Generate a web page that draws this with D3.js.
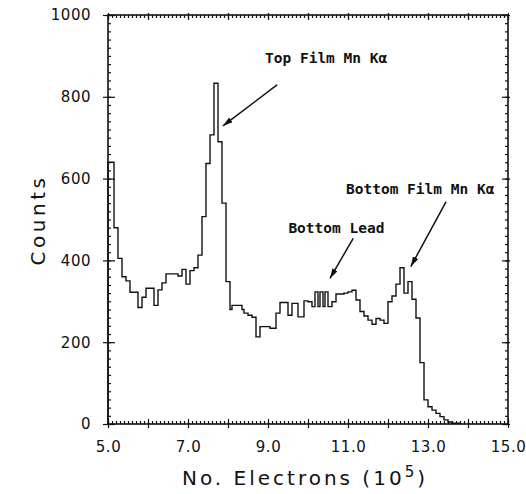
<!DOCTYPE html>
<html>
<head>
<meta charset="utf-8">
<script src="https://cdn.jsdelivr.net/npm/d3@7"></script>
<style>
  body { margin: 0; background: #fff; }
  .tick-label { font-family: "DejaVu Sans", sans-serif; font-size: 15px; fill: #111; letter-spacing: 0.5px; }
  .axis-title { font-family: "DejaVu Sans", sans-serif; font-size: 20px; fill: #111; letter-spacing: 3px; }
  .note { font-family: "DejaVu Sans Mono", monospace; font-size: 14.5px; font-weight: bold; fill: #111; }
</style>
</head>
<body>
<div id="chart"></div>
<script>
// histogram steps: left edge of each step, last value is the right edge of the final step
const binEdges = [5.0, 5.15, 5.25, 5.35, 5.45, 5.55, 5.75, 5.85, 5.95, 6.15,
    6.25, 6.35, 6.45, 6.75, 6.85, 6.95, 7.05, 7.15, 7.25, 7.35,
    7.45, 7.55, 7.65, 7.75, 7.85, 7.95, 8.05, 8.1, 8.35, 8.4,
    8.5, 8.6, 8.7, 8.8, 9.05, 9.2, 9.3, 9.5, 9.6, 9.75,
    9.9, 10.0, 10.1, 10.175, 10.25, 10.3, 10.375, 10.425, 10.5, 10.6,
    10.7, 10.9, 11.0, 11.1, 11.2, 11.3, 11.4, 11.5, 11.6, 11.7,
    11.8, 11.9, 12.0, 12.1, 12.2, 12.3, 12.4, 12.5, 12.6, 12.7,
    12.8, 12.9, 13.0, 13.1, 13.2, 13.3, 13.4, 13.5, 13.6, 13.8];
const counts = [640, 480, 405, 360, 350, 322, 285, 310, 332, 290,
    328, 345, 367, 362, 378, 342, 375, 382, 413, 507,
    637, 707, 833, 690, 540, 348, 280, 290, 280, 271,
    266, 261, 213, 238, 234, 271, 297, 266, 295, 262,
    301, 299, 287, 323, 287, 323, 287, 323, 287, 299,
    318, 320, 323, 327, 303, 275, 264, 254, 244, 258,
    254, 246, 299, 313, 342, 382, 320, 348, 305, 259,
    150, 59, 42, 34, 26, 18, 10, 5, 2];

const xMajorTicks = d3.range(5, 15.01, 1);
const xMinorTicks = d3.range(50, 151).map(d => d / 10);
const yMajorTicks = d3.range(0, 1001, 200);
const yMinorTicks = d3.range(0, 1001, 20);

// annotations, in data units
const noteText = ["Top Film Mn K\u03b1", "Bottom Lead", "Bottom Film Mn K\u03b1"];
const noteAt = [[8.925, 883], [9.51, 467], [10.95, 562]];
const arrowFrom = [[9.225, 829], [11.13, 454], [13.45, 543]];
const arrowTo = [[7.875, 729], [10.55, 356], [12.57, 385]];

const width = 526, height = 494;
const margin = {top: 15, right: 18, bottom: 70, left: 108};

const svg = d3.select("#chart")
    .append("svg")
    .attr("width", width)
    .attr("height", height);

const x = d3.scaleLinear()
    .domain([5, 15])
    .range([margin.left, width - margin.right]);

const y = d3.scaleLinear()
    .domain([0, 1000])
    .range([height - margin.bottom, margin.top]);

const ink = "#111";

// step line of the histogram
const pts = [[binEdges[0], 0]];
counts.forEach((c, i) => {
    pts.push([binEdges[i], c]);
    pts.push([binEdges[i + 1], c]);
});
pts.push([binEdges[binEdges.length - 1], 0]);

svg.append("path")
    .datum(pts)
    .attr("fill", "none")
    .attr("stroke", ink)
    .attr("stroke-width", 1.4)
    .attr("d", d3.line().x(d => x(d[0])).y(d => y(d[1])));

// axes: minor ticks point inward, major ticks cross the frame
const fmt = d => (Math.round(d) % 2 === 1) ? d3.format(".1f")(d) : "";

svg.append("g")
    .attr("transform", `translate(0,${y(0)})`)
    .call(d3.axisBottom(x).tickValues(xMinorTicks).tickSize(-3).tickFormat(""));
const bottomMajor = svg.append("g")
    .attr("transform", `translate(0,${y(0)})`)
    .call(d3.axisBottom(x).tickValues(xMajorTicks).tickSize(4).tickPadding(13).tickFormat(fmt));
bottomMajor.selectAll(".tick line").attr("y1", -5);

svg.append("g")
    .attr("transform", `translate(0,${y(1000)})`)
    .call(d3.axisTop(x).tickValues(xMinorTicks).tickSize(-3).tickFormat(""));
const topMajor = svg.append("g")
    .attr("transform", `translate(0,${y(1000)})`)
    .call(d3.axisTop(x).tickValues(xMajorTicks).tickSize(2).tickFormat(""));
topMajor.selectAll(".tick line").attr("y1", 5);

svg.append("g")
    .attr("transform", `translate(${x(5)},0)`)
    .call(d3.axisLeft(y).tickValues(yMinorTicks).tickSize(-3).tickFormat(""));
const leftMajor = svg.append("g")
    .attr("transform", `translate(${x(5)},0)`)
    .call(d3.axisLeft(y).tickValues(yMajorTicks).tickSize(5).tickPadding(12).tickFormat(d3.format("d")));
leftMajor.selectAll(".tick line").attr("x1", 7);

svg.append("g")
    .attr("transform", `translate(${x(15)},0)`)
    .call(d3.axisRight(y).tickValues(yMinorTicks).tickSize(-3).tickFormat(""));
const rightMajor = svg.append("g")
    .attr("transform", `translate(${x(15)},0)`)
    .call(d3.axisRight(y).tickValues(yMajorTicks).tickSize(2).tickFormat(""));
rightMajor.selectAll(".tick line").attr("x1", -6);

svg.selectAll(".domain").remove();
svg.selectAll(".tick line").attr("stroke", ink).attr("stroke-width", 1.2);
svg.selectAll(".tick text")
    .attr("class", "tick-label")
    .attr("font-family", null)
    .attr("font-size", null)
    .attr("fill", null);

// frame
svg.append("rect")
    .attr("x", x(5))
    .attr("y", y(1000))
    .attr("width", x(15) - x(5))
    .attr("height", y(0) - y(1000))
    .attr("fill", "none")
    .attr("stroke", ink)
    .attr("stroke-width", 1.6);

// axis titles
const xTitle = svg.append("text")
    .attr("class", "axis-title")
    .attr("x", 182)
    .attr("y", 485);
xTitle.append("tspan").text("No. Electrons (10");
xTitle.append("tspan").attr("dy", -8).attr("font-size", 15).text("5");
xTitle.append("tspan").attr("dy", 8).text(")");

svg.append("text")
    .attr("class", "axis-title")
    .attr("transform", "translate(45,220) rotate(-90)")
    .attr("text-anchor", "middle")
    .attr("font-size", 17)
    .style("letter-spacing", "3.5px")
    .text("Counts");

// annotations
svg.append("defs").append("marker")
    .attr("id", "head")
    .attr("viewBox", "0 0 10 6")
    .attr("refX", 10)
    .attr("refY", 3)
    .attr("markerWidth", 10)
    .attr("markerHeight", 6)
    .attr("markerUnits", "userSpaceOnUse")
    .attr("orient", "auto")
    .append("path")
    .attr("d", "M0,0L10,3L0,6Z")
    .attr("fill", ink);

noteText.forEach((t, i) => {
    svg.append("text")
        .attr("class", "note")
        .attr("x", x(noteAt[i][0]))
        .attr("y", y(noteAt[i][1]))
        .text(t);
    svg.append("line")
        .attr("x1", x(arrowFrom[i][0]))
        .attr("y1", y(arrowFrom[i][1]))
        .attr("x2", x(arrowTo[i][0]))
        .attr("y2", y(arrowTo[i][1]))
        .attr("stroke", ink)
        .attr("stroke-width", 1.5)
        .attr("marker-end", "url(#head)");
});
</script>
</body>
</html>
